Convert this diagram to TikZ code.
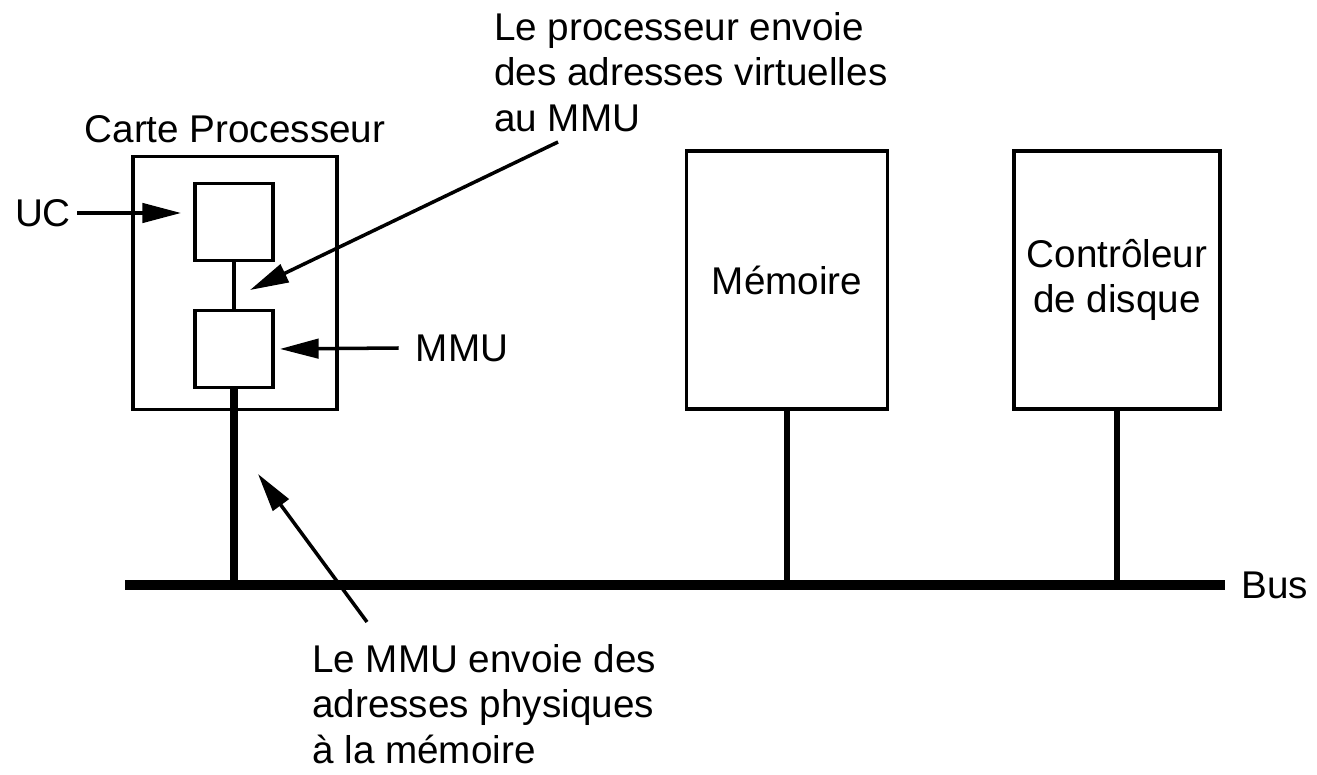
\documentclass[tikz,border=0pt]{standalone}
\usepackage{fontspec}
\setmainfont{Liberation Sans}
\usetikzlibrary{positioning,arrows.meta}

\begin{document}
\begin{tikzpicture}[x=0.2mm,y=-0.2mm,every node/.style={font=\fontsize{22}{26}\selectfont},
  box/.style={draw,line width=2.2pt,inner sep=0pt,align=center},
  arr/.style={-{Triangle[length=22pt,width=11pt]},line width=2pt}]
  \useasboundingbox (0,0) rectangle (1317,775);
  % boards on the bus
  \node[box,minimum width=4.08cm,minimum height=5.06cm] (carte) at (235,283) {};
  \node[box,minimum width=1.56cm,minimum height=1.54cm] (uc) at (234,222) {};
  \node[box,minimum width=1.56cm,minimum height=1.54cm] (mmu) at (234,349) {};
  \node[box,minimum width=4.02cm,minimum height=5.16cm] (memoire) at (787,280) {M\'emoire};
  \node[box,minimum width=4.12cm,minimum height=5.16cm] (ctrl) at (1117,280) {Contr\^oleur\\de disque};
  \node[above=1mm of carte] (lcarte) {Carte Processeur};
  % bus
  \coordinate (busL) at (125,585);
  \coordinate (busR) at (1225,585);
  \draw[line width=5.5pt] (busL) -- (busR);
  \node[right=2mm of busR] (lbus) {Bus};
  \draw[line width=2pt] (uc) -- (mmu);
  \draw[line width=5pt] (mmu.south) -- (mmu.south |- busL);
  \draw[line width=3.5pt] (memoire.south) -- (memoire.south |- busL);
  \draw[line width=3.5pt] (ctrl.south) -- (ctrl.south |- busL);
  % labels and arrows
  \node (lUC) at (43,213) {UC};
  \node (lMMU) at (462,348) {MMU};
  \draw[arr,shorten >=2.4mm] (lUC.east) -- (uc.west |- lUC.east);
  \draw[arr,shorten >=1mm] ([xshift=-2.2mm]lMMU.west) -- (mmu.east);
  \node[anchor=north west,align=left] (lvirt) at (488,6) {Le processeur envoie\\des adresses virtuelles\\au MMU};
  \node[anchor=north west,align=left] (lphys) at (306,638) {Le MMU envoie des\\adresses physiques\\\`a la m\'emoire};
  \coordinate (vtail) at (558,142);
  \coordinate (vtip) at (250,290);
  \coordinate (ptail) at (367,622);
  \coordinate (ptip) at (258,474);
  \draw[arr] (vtail) -- (vtip);
  \draw[arr] (ptail) -- (ptip);
\end{tikzpicture}
\end{document}
